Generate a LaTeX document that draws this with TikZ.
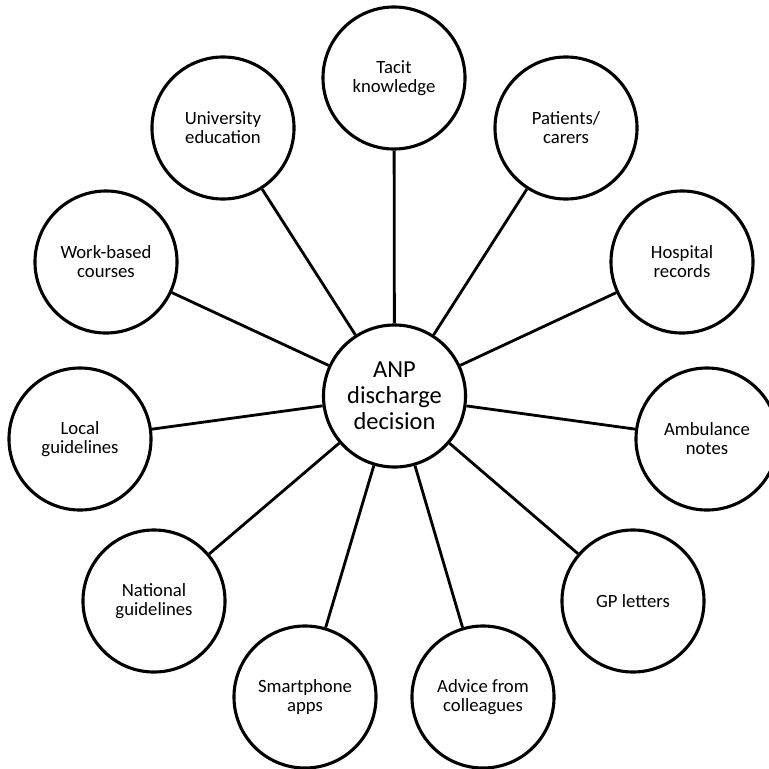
\documentclass[tikz,border=0pt]{standalone}
\usepackage{fontspec}
\setmainfont{Carlito}

\begin{document}
\begin{tikzpicture}[
    x=0.025cm, y=-0.025cm,
    src/.style={draw, circle, line width=2.2pt, minimum size=3.55cm, inner sep=0pt, align=center, font=\fontsize{13.3}{13.5}\selectfont},
    hub/.style={src, font=\fontsize{17.4}{18.5}\selectfont},
    ln/.style={line width=2pt}
]
\clip (0,0) rectangle (769,769);
\node[hub] (anp) at (394.5,396) {ANP\\discharge\\decision};
\node[src] (tacit) at (394,78) {Tacit\\knowledge};
\node[src] (patients) at (566,128) {Patients/\\carers};
\node[src] (hospital) at (682,262) {Hospital\\records};
\node[src] (ambulance) at (707,439) {Ambulance\\notes};
\node[src] (gp) at (633,601) {GP letters};
\node[src] (advice) at (483,697) {Advice from\\colleagues};
\node[src] (smartphone) at (305,697) {Smartphone\\apps};
\node[src] (national) at (154,601) {National\\guidelines};
\node[src] (local) at (80,439) {Local\\guidelines};
\node[src] (workbased) at (106,262) {Work-based\\courses};
\node[src] (university) at (223,128) {University\\education};
\foreach \n in {tacit, patients, hospital, ambulance, gp, advice, smartphone, national, local, workbased, university}
    \draw[ln] (anp) -- (\n);
\end{tikzpicture}
\end{document}
